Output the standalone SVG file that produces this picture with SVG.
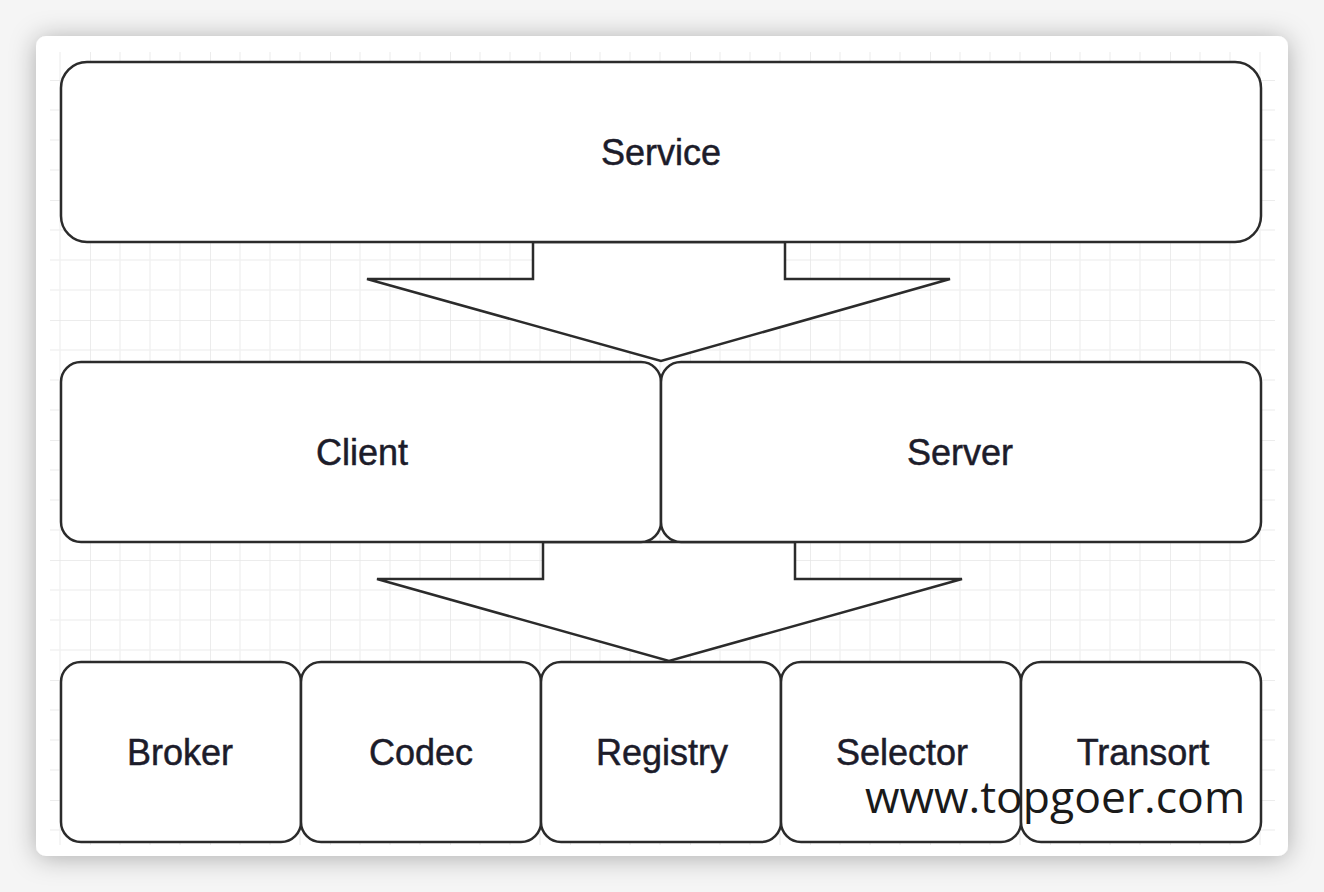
<svg xmlns="http://www.w3.org/2000/svg" width="1324" height="892" viewBox="0 0 1324 892">
  <style>
    .box { fill: #ffffff; stroke: #2b2b2b; stroke-width: 2.5; }
    .arrow { fill: #ffffff; stroke: #2b2b2b; stroke-width: 2.5; stroke-linejoin: miter; }
    .lbl { font-family: "Liberation Sans", Arial, Helvetica, sans-serif; font-size: 36px; fill: #1c1c2a; stroke: #1c1c2a; stroke-width: 0.5; text-anchor: middle; }
    .wm { font-family: "Open Sans", "DejaVu Sans", sans-serif; font-size: 44.5px; fill: #1a1a1a; }
  </style>
  <defs>
    <filter id="shadow" x="-10%" y="-10%" width="120%" height="120%">
      <feDropShadow dx="0" dy="2" stdDeviation="13" flood-color="#000000" flood-opacity="0.3"/>
    </filter>
    <pattern id="grid" patternUnits="userSpaceOnUse" x="90" y="80" width="120" height="120">
      <path d="M30 0V120M60 0V120M90 0V120M0 30H120M0 60H120M0 90H120" stroke="#f2f2f2" stroke-width="1.5" fill="none"/>
      <path d="M0 0V120M0 0H120" stroke="#e6e6e6" stroke-width="1.5" fill="none"/>
    </pattern>
  </defs>
  <rect x="0" y="0" width="1324" height="892" fill="#f5f5f5"/>
  <rect x="36" y="36" width="1252" height="820" rx="10" fill="#ffffff" filter="url(#shadow)"/>
  <rect x="50" y="52" width="1225" height="793" fill="url(#grid)"/>

  <g id="connectors">
    <polygon class="arrow" points="533,242 785,242 785,279 950,279 661,361 367,279 533,279"/>
    <polygon class="arrow" points="543,542 795,542 795,579 962,579 669,661 377,579 543,579"/>
  </g>

  <g id="service">
    <rect class="box" x="61" y="62" width="1200" height="180" rx="26"/>
    <text class="lbl" x="661" y="165">Service</text>
  </g>
  <g id="client">
    <rect class="box" x="61" y="362" width="600" height="180" rx="20"/>
    <text class="lbl" x="362" y="465">Client</text>
  </g>
  <g id="server">
    <rect class="box" x="661" y="362" width="600" height="180" rx="20"/>
    <text class="lbl" x="960" y="465">Server</text>
  </g>
  <g id="broker">
    <rect class="box" x="61" y="662" width="240" height="180" rx="20"/>
    <text class="lbl" x="180" y="765">Broker</text>
  </g>
  <g id="codec">
    <rect class="box" x="301" y="662" width="240" height="180" rx="20"/>
    <text class="lbl" x="421" y="765">Codec</text>
  </g>
  <g id="registry">
    <rect class="box" x="541" y="662" width="240" height="180" rx="20"/>
    <text class="lbl" x="662" y="765">Registry</text>
  </g>
  <g id="selector">
    <rect class="box" x="781" y="662" width="240" height="180" rx="20"/>
    <text class="lbl" x="902" y="765">Selector</text>
  </g>
  <g id="transort">
    <rect class="box" x="1021" y="662" width="240" height="180" rx="20"/>
    <text class="lbl" x="1143" y="765">Transort</text>
  </g>
  <text class="wm" x="865" y="813">www.topgoer.com</text>
</svg>
